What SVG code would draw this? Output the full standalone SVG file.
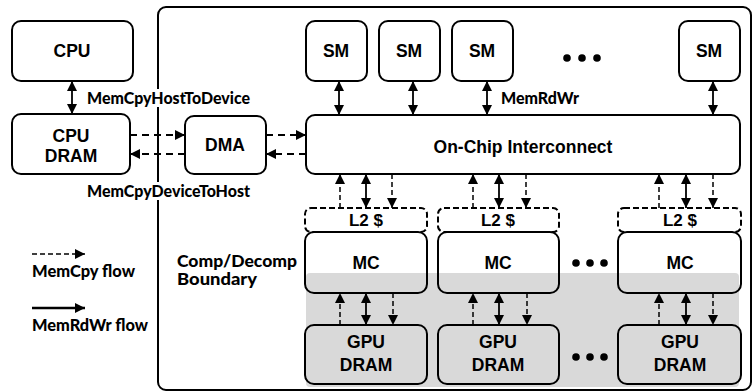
<svg xmlns="http://www.w3.org/2000/svg" width="753" height="392" viewBox="0 0 753 392">
<style>
.box{fill:#fff;stroke:#000;stroke-width:2}
.gbox{fill:#d9d9d9;stroke:#000;stroke-width:2}
.l2{fill:#fff;stroke:#000;stroke-width:2;stroke-dasharray:6 3}
.t{font-family:"Liberation Sans",Arial,sans-serif;font-weight:bold;font-size:17.5px;text-anchor:middle;fill:#000}
.lb{font-family:Lato,"Open Sans",sans-serif;font-weight:900;font-size:16px;fill:#000}
.s{stroke:#000;stroke-width:1.8;fill:none}
.d{stroke:#000;stroke-width:1.5;fill:none;stroke-dasharray:5 3}
.dh{stroke:#000;stroke-width:1.8;fill:none;stroke-dasharray:7 5}
</style>
<defs>
<marker id="ah" viewBox="0 0 10 10" refX="10" refY="5" markerWidth="10" markerHeight="10" markerUnits="userSpaceOnUse" orient="auto-start-reverse">
<path d="M0,0 L10,5 L0,10 z" fill="#000"/>
</marker>
</defs>
<rect id="container" x="158" y="7" width="593" height="383" rx="8" fill="none" stroke="#000" stroke-width="2"/>
<rect id="boundary" x="306" y="273" width="433" height="114" rx="4" fill="#d9d9d9"/>
<g id="cpu"><rect class="box" x="12" y="21" width="121" height="60" rx="9"/><text class="t" x="72" y="57">CPU</text></g>
<g id="cpudram"><rect class="box" x="12" y="114" width="118" height="60" rx="9"/><text class="t" x="71" y="142">CPU</text><text class="t" x="71" y="162">DRAM</text></g>
<g id="dma"><rect class="box" x="185" y="116" width="81" height="58" rx="9"/><text class="t" x="225" y="151">DMA</text></g>
<g id="sm1"><rect class="box" x="306" y="21" width="61" height="60" rx="9"/><text class="t" x="336" y="57">SM</text></g>
<g id="sm2"><rect class="box" x="379" y="21" width="61" height="60" rx="9"/><text class="t" x="409" y="57">SM</text></g>
<g id="sm3"><rect class="box" x="452" y="21" width="61" height="60" rx="9"/><text class="t" x="482" y="57">SM</text></g>
<g id="sm4"><rect class="box" x="679" y="21" width="61" height="60" rx="9"/><text class="t" x="709" y="57">SM</text></g>
<g id="smdots"><circle cx="567" cy="58" r="3.8"/><circle cx="582" cy="58" r="3.8"/><circle cx="597" cy="58" r="3.8"/></g>
<g id="noc"><rect class="box" x="306" y="115" width="434" height="59" rx="9"/><text class="t" x="523" y="153">On-Chip Interconnect</text></g>
<g id="l2a"><rect class="l2" x="305" y="208" width="122" height="24" rx="6"/><text class="t" x="366" y="226" style="font-size:17px">L2 $</text></g>
<g id="l2b"><rect class="l2" x="438" y="208" width="121" height="24" rx="6"/><text class="t" x="498" y="226" style="font-size:17px">L2 $</text></g>
<g id="l2c"><rect class="l2" x="618" y="208" width="123" height="24" rx="6"/><text class="t" x="680" y="226" style="font-size:17px">L2 $</text></g>
<g id="mc1"><rect x="305" y="232" width="122" height="61" rx="9" fill="none" stroke="#000" stroke-width="2"/><text class="t" x="366" y="269">MC</text></g>
<g id="mc2"><rect x="438" y="232" width="121" height="61" rx="9" fill="none" stroke="#000" stroke-width="2"/><text class="t" x="498" y="269">MC</text></g>
<g id="mc3"><rect x="618" y="232" width="123" height="61" rx="9" fill="none" stroke="#000" stroke-width="2"/><text class="t" x="680" y="269">MC</text></g>
<g id="mcdots"><circle cx="576" cy="263" r="3.8"/><circle cx="590" cy="263" r="3.8"/><circle cx="604" cy="263" r="3.8"/></g>
<g id="gd1"><rect class="gbox" x="305" y="325" width="122" height="59" rx="9"/><text class="t" x="366" y="348">GPU</text><text class="t" x="366" y="371">DRAM</text></g>
<g id="gd2"><rect class="gbox" x="438" y="325" width="121" height="59" rx="9"/><text class="t" x="498" y="348">GPU</text><text class="t" x="498" y="371">DRAM</text></g>
<g id="gd3"><rect class="gbox" x="618" y="325" width="123" height="59" rx="9"/><text class="t" x="680" y="348">GPU</text><text class="t" x="680" y="371">DRAM</text></g>
<g id="gddots"><circle cx="576" cy="357" r="3.8"/><circle cx="590" cy="357" r="3.8"/><circle cx="604" cy="357" r="3.8"/></g>
<g id="connectors">
<line class="s" x1="72" y1="81" x2="72" y2="114" marker-start="url(#ah)" marker-end="url(#ah)"/>
<line class="dh" x1="130" y1="135" x2="185" y2="135" marker-end="url(#ah)"/>
<line class="dh" x1="185" y1="154" x2="130" y2="154" marker-end="url(#ah)"/>
<line class="dh" x1="266" y1="135" x2="306" y2="135" marker-end="url(#ah)"/>
<line class="dh" x1="306" y1="154" x2="266" y2="154" marker-end="url(#ah)"/>
<line class="s" x1="339" y1="81" x2="339" y2="115" marker-start="url(#ah)" marker-end="url(#ah)"/>
<line class="s" x1="413" y1="81" x2="413" y2="115" marker-start="url(#ah)" marker-end="url(#ah)"/>
<line class="s" x1="487" y1="81" x2="487" y2="115" marker-start="url(#ah)" marker-end="url(#ah)"/>
<line class="s" x1="713" y1="81" x2="713" y2="115" marker-start="url(#ah)" marker-end="url(#ah)"/>
<line class="d" x1="340" y1="208" x2="340" y2="174" marker-end="url(#ah)"/>
<line class="s" x1="366" y1="174" x2="366" y2="208" marker-start="url(#ah)" marker-end="url(#ah)"/>
<line class="d" x1="392" y1="174" x2="392" y2="208" marker-end="url(#ah)"/>
<line class="d" x1="473" y1="208" x2="473" y2="174" marker-end="url(#ah)"/>
<line class="s" x1="499" y1="174" x2="499" y2="208" marker-start="url(#ah)" marker-end="url(#ah)"/>
<line class="d" x1="526" y1="174" x2="526" y2="208" marker-end="url(#ah)"/>
<line class="d" x1="659" y1="208" x2="659" y2="174" marker-end="url(#ah)"/>
<line class="s" x1="686" y1="174" x2="686" y2="208" marker-start="url(#ah)" marker-end="url(#ah)"/>
<line class="d" x1="713" y1="174" x2="713" y2="208" marker-end="url(#ah)"/>
<line class="d" x1="340" y1="325" x2="340" y2="293" marker-end="url(#ah)"/>
<line class="s" x1="366" y1="293" x2="366" y2="325" marker-start="url(#ah)" marker-end="url(#ah)"/>
<line class="d" x1="393" y1="293" x2="393" y2="325" marker-end="url(#ah)"/>
<line class="d" x1="473" y1="325" x2="473" y2="293" marker-end="url(#ah)"/>
<line class="s" x1="499" y1="293" x2="499" y2="325" marker-start="url(#ah)" marker-end="url(#ah)"/>
<line class="d" x1="527" y1="293" x2="527" y2="325" marker-end="url(#ah)"/>
<line class="d" x1="659" y1="325" x2="659" y2="293" marker-end="url(#ah)"/>
<line class="s" x1="686" y1="293" x2="686" y2="325" marker-start="url(#ah)" marker-end="url(#ah)"/>
<line class="d" x1="713" y1="293" x2="713" y2="325" marker-end="url(#ah)"/>
<line class="d" x1="32" y1="254" x2="85" y2="254" marker-end="url(#ah)"/>
<line x1="32" y1="308" x2="85" y2="308" stroke="#000" stroke-width="2.5" marker-end="url(#ah)"/>
</g>
<g id="labels">
<rect x="86" y="89" width="166" height="18" fill="#fff"/>
<text class="lb" x="87" y="104" textLength="163" lengthAdjust="spacingAndGlyphs">MemCpyHostToDevice</text>
<rect x="86" y="182" width="166" height="18" fill="#fff"/>
<text class="lb" x="87" y="197" textLength="163" lengthAdjust="spacingAndGlyphs">MemCpyDeviceToHost</text>
<text class="lb" x="501" y="104" textLength="78" lengthAdjust="spacingAndGlyphs">MemRdWr</text>
<text class="lb" x="177" y="267" textLength="120" lengthAdjust="spacingAndGlyphs">Comp/Decomp</text>
<text class="lb" x="177" y="285" textLength="80" lengthAdjust="spacingAndGlyphs">Boundary</text>
<text class="lb" x="32" y="277" textLength="103" lengthAdjust="spacingAndGlyphs">MemCpy flow</text>
<text class="lb" x="32" y="331" textLength="116" lengthAdjust="spacingAndGlyphs">MemRdWr flow</text>
</g>
</svg>
